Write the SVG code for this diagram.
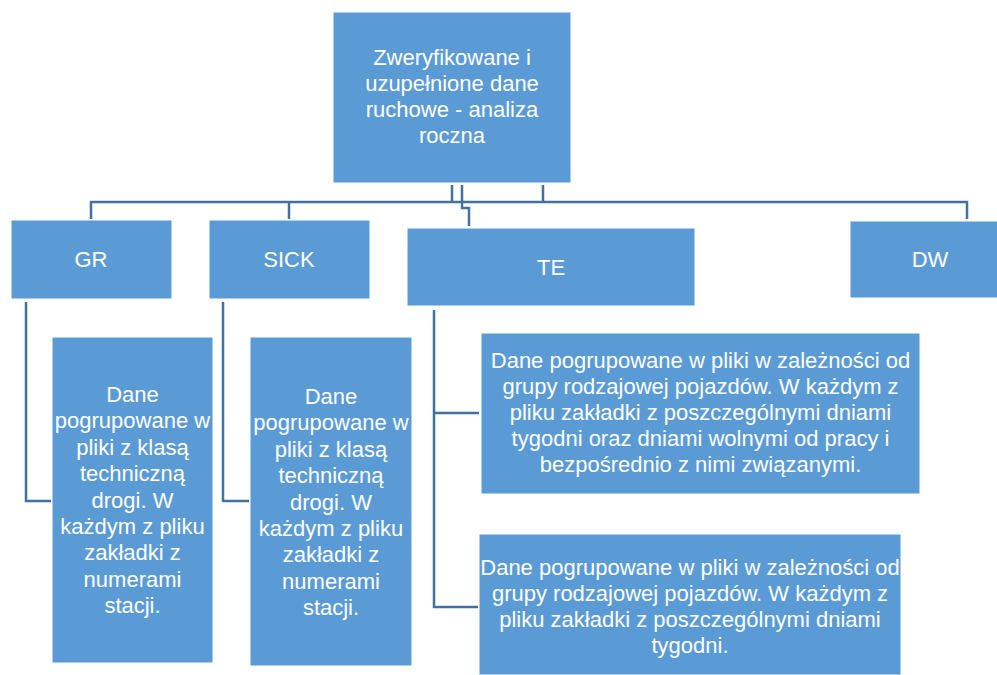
<svg xmlns="http://www.w3.org/2000/svg" width="997" height="675" viewBox="0 0 997 675">
<style>
.box{fill:#5B9BD5;stroke:#ffffff;stroke-width:1}
.t{font-family:"Liberation Sans",Arial,sans-serif;font-size:22px;fill:#ffffff;text-anchor:middle}
.c{fill:none;stroke:#41719C;stroke-width:2.5}
</style>
<rect width="997" height="675" fill="#ffffff"/>
<g id="connectors">
<path class="c" d="M452 185 V202"/>
<path class="c" d="M543 185 V202"/>
<path class="c" d="M91 219 V202 H967 V219"/>
<path class="c" d="M289 202 V219"/>
<path class="c" d="M462 185 V208 H469 V226"/>
<path class="c" d="M26 302 V501 H51"/>
<path class="c" d="M223 302 V501 H249"/>
<path class="c" d="M434 310 V607 H478"/>
<path class="c" d="M434 413 H479"/>
</g>
<g id="root">
<rect class="box" x="333" y="12" width="238" height="171"/>
<text class="t" x="452" y="65">Zweryfikowane i</text>
<text class="t" x="452" y="91">uzupełnione dane</text>
<text class="t" x="452" y="117">ruchowe - analiza</text>
<text class="t" x="452" y="143">roczna</text>
</g>
<g id="gr">
<rect class="box" x="11" y="220" width="161" height="79"/>
<text class="t" x="91" y="267">GR</text>
</g>
<g id="sick">
<rect class="box" x="209" y="220" width="161" height="79"/>
<text class="t" x="289" y="267">SICK</text>
</g>
<g id="te">
<rect class="box" x="407" y="228" width="288" height="78"/>
<text class="t" x="551" y="275">TE</text>
</g>
<g id="dw">
<rect class="box" x="850" y="221" width="160" height="77"/>
<text class="t" x="930" y="267">DW</text>
</g>
<g id="gr-child">
<rect class="box" x="52" y="337" width="161" height="326"/>
<text class="t" x="132.5" y="402">Dane</text>
<text class="t" x="132.5" y="428.4">pogrupowane w</text>
<text class="t" x="132.5" y="454.8">pliki z klasą</text>
<text class="t" x="132.5" y="481.2">techniczną</text>
<text class="t" x="132.5" y="507.6">drogi. W</text>
<text class="t" x="132.5" y="534">każdym z pliku</text>
<text class="t" x="132.5" y="560.4">zakładki z</text>
<text class="t" x="132.5" y="586.8">numerami</text>
<text class="t" x="132.5" y="613.2">stacji.</text>
</g>
<g id="sick-child">
<rect class="box" x="250" y="337" width="162" height="329"/>
<text class="t" x="331" y="404">Dane</text>
<text class="t" x="331" y="430.4">pogrupowane w</text>
<text class="t" x="331" y="456.8">pliki z klasą</text>
<text class="t" x="331" y="483.2">techniczną</text>
<text class="t" x="331" y="509.6">drogi. W</text>
<text class="t" x="331" y="536">każdym z pliku</text>
<text class="t" x="331" y="562.4">zakładki z</text>
<text class="t" x="331" y="588.8">numerami</text>
<text class="t" x="331" y="615.2">stacji.</text>
</g>
<g id="te-child-1">
<rect class="box" x="481" y="333" width="439" height="161"/>
<text class="t" x="700.5" y="368">Dane pogrupowane w pliki w zależności od</text>
<text class="t" x="700.5" y="394">grupy rodzajowej pojazdów. W każdym z</text>
<text class="t" x="700.5" y="420">pliku zakładki z poszczególnymi dniami</text>
<text class="t" x="700.5" y="446">tygodni oraz dniami wolnymi od pracy i</text>
<text class="t" x="700.5" y="472">bezpośrednio z nimi związanymi.</text>
</g>
<g id="te-child-2">
<rect class="box" x="479" y="534" width="422" height="141"/>
<text class="t" x="690" y="575">Dane pogrupowane w pliki w zależności od</text>
<text class="t" x="690" y="601">grupy rodzajowej pojazdów. W każdym z</text>
<text class="t" x="690" y="627">pliku zakładki z poszczególnymi dniami</text>
<text class="t" x="690" y="653">tygodni.</text>
</g>
</svg>
